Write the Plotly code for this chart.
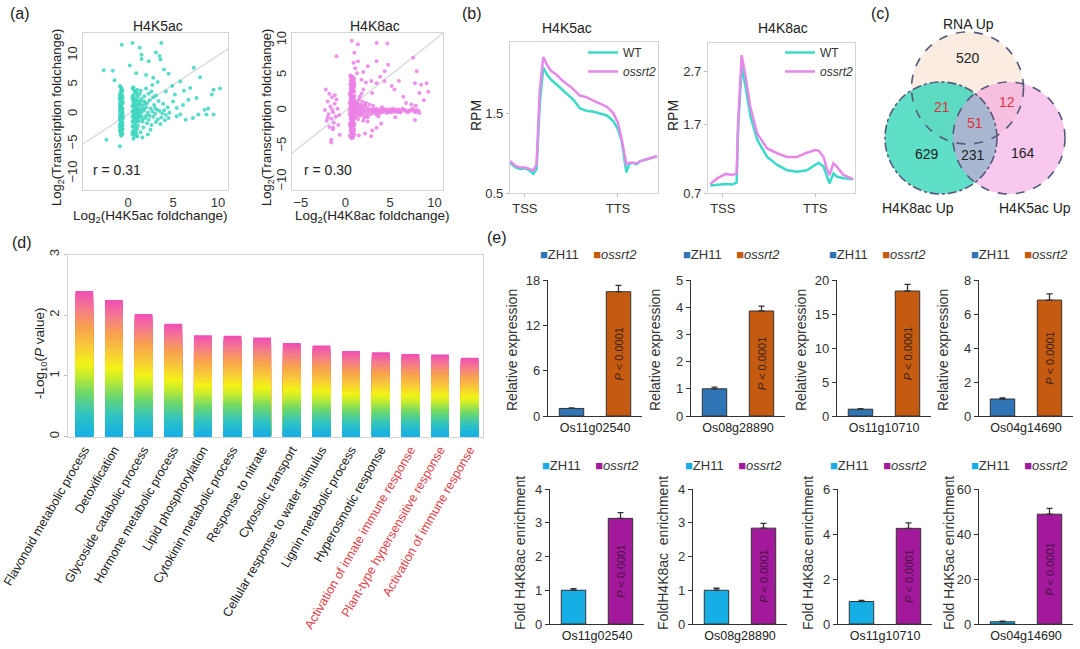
import plotly.graph_objects as go
from plotly.colors import sample_colorscale

W, H = 1080, 649
FONT = "Liberation Sans, Arial, Helvetica, sans-serif"

# ---------------- (a) scatter data: (log2 acetylation FC, log2 transcription FC)
k5_points = [
    (-0.9, 4.8), (-0.7, 4.2), (-0.8, 3.6), (-0.9, 3.1), (-0.6, 2.8), (-0.8, 2.4), (-0.9, 2.0), (-0.7, 1.7),
    (-0.8, 1.3), (-0.6, 1.0), (-0.9, 0.8), (-0.7, 0.5), (-0.8, 0.2), (-0.9, 0.0), (-0.6, -0.2), (-0.8, -0.4),
    (-0.7, -0.7), (-0.9, -0.9), (-0.8, -1.2), (-0.6, -1.4), (-0.9, -1.7), (-0.7, -2.0), (-0.8, -2.3), (-0.9, -2.7),
    (-0.7, -3.0), (-0.8, -3.4), (-0.6, -2.5), (-0.7, 0.9), (-0.9, 1.5), (-0.6, 2.2), (-0.8, 3.9), (-0.7, -0.1),
    (-0.85, -1.8), (-0.65, 0.3), (-0.75, 1.1), (-0.95, 2.6), (-0.55, -0.6), (-0.85, -2.9), (-0.75, 4.5), (-0.65, 3.3),
    (-0.8, 4.6), (-0.6, 4.0), (-0.9, 3.4), (-0.7, 2.9), (-0.8, 2.7), (-0.6, 1.9), (-0.9, 1.2), (-0.7, 0.7),
    (-0.8, 0.6), (-0.6, 0.1), (-0.9, -0.5), (-0.7, -1.1), (-0.8, -1.5), (-0.6, -1.9), (-0.9, -2.2), (-0.7, -2.6),
    (-0.8, -3.1), (-0.6, -3.3), (-0.75, -3.6), (-0.85, 0.4),
    (0.5, 4.4), (0.7, 4.0), (0.9, 3.7), (0.6, 3.3), (1.1, 3.0), (0.5, 2.7), (0.8, 2.4), (1.2, 2.2),
    (0.6, 2.0), (0.9, 1.7), (0.5, 1.4), (1.0, 1.2), (0.7, 1.0), (1.2, 0.8), (0.5, 0.6), (0.8, 0.4),
    (1.1, 0.2), (0.6, 0.0), (0.9, -0.2), (0.5, -0.4), (1.2, -0.6), (0.7, -0.8), (1.0, -1.0), (0.5, -1.3),
    (0.8, -1.6), (1.1, -1.9), (0.6, -2.2), (0.9, -2.6), (0.5, -3.0), (0.8, -3.3), (1.0, -3.7), (0.6, -4.1),
    (1.3, 3.5), (1.0, 4.2), (0.7, -0.1), (1.3, 0.5), (0.6, 1.6), (1.1, -0.4), (0.9, 0.9), (0.5, -2.0),
    (0.6, 4.6), (0.8, 3.9), (1.0, 3.4), (0.5, 3.1), (0.7, 2.8), (1.0, 2.5), (0.6, 2.4), (0.9, 2.0),
    (1.2, 1.6), (0.7, 1.4), (1.0, 0.6), (0.6, 0.3), (0.9, 0.1), (1.2, -0.2), (0.7, -0.4), (1.0, -0.7),
    (0.6, -1.0), (0.9, -1.3), (0.7, -1.9), (1.0, -2.4), (0.6, -2.8), (0.9, -3.1), (0.7, -3.6), (1.2, -1.2),
    (1.3, 1.8), (1.4, 0.2), (1.6, -0.8), (1.8, 0.9), (2.0, -0.2), (1.4, 2.2),
    (1.5, 2.6), (1.8, 2.2), (2.1, 1.9), (2.4, 2.4), (1.6, 1.5), (2.0, 1.2), (2.5, 1.0), (2.9, 1.6),
    (3.2, 0.8), (1.7, 0.6), (2.2, 0.3), (2.7, 0.5), (3.0, 0.1), (3.5, 0.6), (3.8, 0.2), (4.2, -0.1),
    (4.6, 0.3), (1.5, -0.3), (1.9, -0.6), (2.3, -0.9), (2.8, -0.4), (3.3, -0.8), (3.7, -0.5), (4.1, -1.0),
    (4.5, -0.6), (1.6, -1.2), (2.1, -1.5), (2.6, -1.8), (3.1, -1.3), (3.6, -1.6), (1.8, 3.1), (2.3, 3.5),
    (2.8, 2.9), (3.4, 2.3), (3.9, 1.8), (4.4, 1.2), (1.4, 4.0), (2.0, 4.4), (2.6, 3.9), (3.1, 3.2),
    (1.5, 1.0), (2.4, -0.2), (3.0, 1.1), (1.9, 1.8), (4.0, 0.7), (1.7, -2.2), (2.5, -2.6), (1.4, -3.0),
    (2.2, -3.4), (1.6, -3.9),
    (-0.7, 11.8), (0.5, 12.1), (3.7, 12.1), (1.3, 11.3), (3.5, 9.9), (3.6, 9.3), (-2.7, 7.5), (-1.7, 7.4),
    (2.3, 9.0), (1.5, 9.4), (1.5, 10.1), (7.3, 7.9), (8.0, 6.3), (4.5, 6.9), (5.8, 5.6), (6.9, 4.5),
    (9.5, 4.2), (10.2, 4.4), (9.3, 3.4), (7.6, 2.8), (6.7, 2.5), (5.4, 1.1), (5.8, 0.0), (5.4, -0.3),
    (7.8, 0.0), (8.5, 0.8), (8.9, 1.0), (8.7, 0.0), (9.5, 0.0), (-2.4, -4.3), (-0.9, -5.4), (0.5, -3.4),
    (1.0, -3.7), (2.8, 6.2), (3.3, 5.5), (4.9, 4.8), (5.2, 3.4), (6.1, 1.6), (6.4, -0.9), (7.2, -0.6),
    (2.0, 6.7), (0.9, 7.0), (4.0, 7.6), (6.2, 4.0), (5.0, 2.2), (-1.5, 5.8), (2.7, 5.0), (4.2, 3.9),
    (3.1, 10.5), (0.2, 8.3),
]
k8_points = [
    (0.6, 5.0), (0.8, 4.7), (0.9, 4.4), (0.7, 4.1), (0.6, 3.8), (1.0, 3.6), (0.8, 3.3), (0.6, 3.0),
    (0.9, 2.8), (0.7, 2.5), (0.5, 2.3), (1.0, 2.1), (0.8, 1.9), (0.6, 1.7), (0.9, 1.5), (0.7, 1.3),
    (0.5, 1.1), (1.0, 1.0), (0.8, 0.8), (0.6, 0.6), (0.9, 0.5), (0.7, 0.3), (0.5, 0.2), (1.0, 0.1),
    (0.8, 0.0), (0.6, -0.1), (0.9, -0.2), (0.7, -0.4), (0.5, -0.5), (1.0, -0.7), (0.8, -0.9), (0.6, -1.1),
    (0.9, -1.3), (0.7, -1.5), (0.5, -1.8), (1.0, -2.0), (0.8, -2.3), (0.6, -2.6), (0.9, -2.9), (0.7, -3.2),
    (0.5, -3.5), (0.8, -3.8), (0.65, 4.5), (0.85, 3.9), (0.75, 2.9), (0.55, 2.6), (0.95, 1.8), (0.65, 1.2),
    (0.85, 0.7), (0.75, 0.4), (0.55, 0.0), (0.95, -0.3), (0.65, -0.6), (0.85, -1.0), (0.75, -1.7), (0.55, -2.2),
    (0.95, -2.7), (0.65, -3.0), (0.85, 0.2), (0.75, -0.1), (0.6, 0.9), (0.9, 1.1), (0.7, -0.8), (0.8, 1.6),
    (0.6, 2.0), (0.9, 3.1), (0.7, 3.5), (0.8, -1.4), (0.6, -1.9), (0.9, -0.5),
    (0.55, 4.9), (0.75, 4.8), (0.95, 4.6), (0.6, 4.3), (0.8, 4.2), (1.0, 4.0), (0.55, 3.7), (0.75, 3.6),
    (0.95, 3.4), (0.6, 3.2), (0.8, 3.0), (1.0, 2.7), (0.55, 2.4), (0.75, 2.2), (0.95, 2.0), (0.6, 1.9),
    (0.8, 1.7), (1.0, 1.4), (0.55, 1.3), (0.75, 1.0), (0.95, 0.8), (0.6, 0.7), (0.8, 0.5), (1.0, 0.4),
    (0.55, 0.3), (0.75, 0.1), (0.95, 0.0), (0.6, -0.2), (0.8, -0.3), (1.0, -0.4), (0.55, -0.7), (0.75, -0.9),
    (0.95, -1.1), (0.6, -1.3), (0.8, -1.6), (1.0, -1.8), (0.55, -2.0), (0.75, -2.4), (0.95, -2.5), (0.6, -2.8),
    (0.8, -3.1), (1.0, -3.3), (0.55, -3.7), (0.7, -3.9), (0.9, -3.6), (1.05, 0.2), (1.05, -0.1), (1.05, 0.6),
    (1.05, -0.6), (1.05, 1.2),
    (1.2, 0.3), (1.4, -0.2), (1.6, 0.5), (1.8, -0.4), (2.0, 0.1), (2.2, 0.6), (2.4, -0.3), (2.6, 0.2),
    (2.8, -0.5), (3.0, 0.0), (3.2, 0.3), (3.4, -0.2), (3.6, 0.1), (3.8, -0.4), (4.0, 0.2), (4.2, -0.1),
    (4.4, 0.1), (4.6, -0.3), (4.8, 0.0), (5.0, 0.2), (5.2, -0.2), (5.4, 0.1), (5.6, -0.1), (5.8, 0.0),
    (6.0, 0.2), (6.2, -0.2), (6.5, 0.1), (6.8, -0.1), (7.1, 0.0), (7.4, 0.2), (7.7, -0.1), (8.0, 0.1),
    (1.3, 1.2), (1.5, 1.6), (1.7, 0.9), (1.9, 1.3), (2.1, -1.0), (1.4, -1.2), (1.6, 2.0), (2.3, 1.1),
    (2.5, -0.9), (1.2, -0.8), (1.8, 2.4), (2.0, -1.4), (1.3, 0.8), (3.1, 0.7), (3.5, -0.6), (2.7, 0.9),
    (4.1, 0.5), (1.5, -0.5),
    (1.1, 0.0), (1.3, -0.1), (1.5, 0.2), (1.7, 0.0), (1.9, 0.3), (2.1, -0.2), (2.3, 0.1), (2.5, 0.4),
    (2.7, -0.1), (2.9, 0.2), (3.1, -0.3), (3.3, 0.0), (3.5, 0.3), (3.7, -0.1), (3.9, 0.1), (4.1, -0.2),
    (4.3, 0.3), (4.5, 0.0), (4.7, 0.2), (4.9, -0.2), (5.1, 0.0), (5.3, 0.3), (5.5, -0.1), (5.7, 0.2),
    (5.9, -0.2), (6.1, 0.0), (6.4, 0.3), (6.7, 0.1), (7.0, -0.2), (7.3, 0.0), (7.6, 0.3), (7.9, -0.2),
    (8.2, 0.0), (1.2, 0.6), (1.4, 0.9), (1.6, -0.7), (1.8, 0.7), (2.0, -0.6), (2.2, 0.9), (2.4, -0.7),
    (-2.2, 3.0), (-1.8, 2.4), (-1.5, 1.9), (-2.0, 1.3), (-1.2, 1.0), (-1.7, 0.6), (-0.9, 0.3), (-2.3, 0.1),
    (-1.4, -0.2), (-1.9, -0.5), (-1.1, -0.8), (-1.6, -1.1), (-2.1, -1.4), (-1.3, -1.7), (-0.8, -2.0), (-1.8, -2.3),
    (-1.4, -2.6), (-1.6, -4.1), (-0.65, -3.4), (-1.6, -4.5), (-2.0, -1.0), (-1.0, 1.6), (-1.5, 0.2), (-0.7, -0.6),
    (-1.2, 2.2),
    (-1.0, 7.7), (1.4, 9.4), (3.5, 9.6), (4.7, 9.5), (1.0, 8.2), (1.4, 7.0), (3.5, 7.0), (4.8, 6.5),
    (4.4, 5.6), (2.9, 4.2), (4.4, 4.2), (3.5, 3.9), (5.2, 3.5), (6.0, 4.2), (7.8, 3.9), (8.0, 5.6),
    (8.5, 3.7), (9.1, 3.9), (9.3, 2.7), (8.3, 2.5), (7.4, 0.9), (7.9, 0.7), (8.3, -0.3), (7.8, -1.3),
    (3.7, -0.8), (2.5, -1.5), (3.5, -2.4), (2.9, -3.6), (-1.4, -2.4), (2.0, 5.5), (2.5, 6.3), (3.9, 4.8),
    (5.5, 3.0), (6.5, 2.0), (4.0, -1.8), (3.0, -2.8), (2.2, -3.2), (1.5, -3.5), (2.0, 3.0), (3.0, 2.5),
    (6.8, 1.1), (7.6, 7.5), (8.8, 1.5), (1.8, 4.4), (2.3, 4.0), (5.6, -0.9), (1.1, 6.0), (0.7, 9.9),
    (0.9, 6.8), (1.3, 5.3),
]
k5_r_text = "r = 0.31"
k8_r_text = "r = 0.30"

# ---------------- (b) metagene profiles (TSS = 0, TTS = 100)
k5_prof_x = [-16, -10, -5, 0, 5, 9, 12.5, 16, 19.7, 24, 28, 34, 40, 46, 52, 59, 66, 73, 81, 88, 95,
             100, 104, 107.5, 109, 112, 115, 120, 124, 130, 138, 142]
k5_prof_wt = [0.88, 0.82, 0.80, 0.81, 0.78, 0.74, 0.80, 1.62, 2.07, 1.98, 1.92, 1.86, 1.80, 1.74, 1.67,
              1.56, 1.53, 1.52, 1.49, 1.47, 1.40, 1.30, 1.15, 0.83, 0.76, 0.86, 0.88, 0.86, 0.90, 0.92, 0.95, 0.96]
k5_prof_mut = [0.90, 0.84, 0.82, 0.82, 0.80, 0.78, 0.86, 1.78, 2.20, 2.10, 2.03, 1.98, 1.91, 1.86, 1.80,
               1.72, 1.70, 1.66, 1.62, 1.58, 1.50, 1.38, 1.17, 0.92, 0.86, 0.88, 0.88, 0.87, 0.90, 0.92, 0.95, 0.96]
k8_prof_x = [-13.6, -5.7, 3.2, 10.4, 15, 16.5, 20.4, 24.7, 30, 37.3, 48, 58.8, 69.5, 80.3, 91, 100,
             103.6, 109, 112.5, 115.4, 119.7, 123.3, 130.4, 141]
k8_prof_wt = [0.54, 0.55, 0.57, 0.56, 0.60, 1.60, 2.78, 2.40, 1.84, 1.40, 1.08, 0.93, 0.83, 0.80, 0.83,
              0.93, 0.97, 0.90, 0.71, 0.58, 0.77, 0.71, 0.68, 0.66]
k8_prof_mut = [0.57, 0.68, 0.76, 0.74, 0.77, 1.70, 3.00, 2.59, 2.00, 1.52, 1.24, 1.15, 1.08, 1.08, 1.16,
               1.21, 1.20, 1.08, 0.86, 0.74, 0.96, 0.90, 0.74, 0.66]
k8_rpm_ticks = ["0.7", "1.7", "2.7"]

# ---------------- (c) Venn counts
venn_sets = ["RNA Up", "H4K8ac Up", "H4K5ac Up"]
venn_counts = {"RNA": 520, "RNA&K8": 21, "RNA&K5": 12, "all": 51, "K8": 629, "K8&K5": 231, "K5": 164}

# ---------------- (d) GO enrichment
go_terms = ["Flavonoid metabolic process", "Detoxification", "Glycoside catabolic process",
            "Hormone metabolic process", "Lipid phosphorylation", "Cytokinin metabolic process",
            "Response to nitrate", "Cytosolic transport", "Cellular response to water stimulus",
            "Lignin metabolic process", "Hyperosmotic response", "Activation of innate immune response",
            "Plant-type hypersensitive response", "Activation of immune response"]
go_values = [2.40, 2.25, 2.02, 1.86, 1.67, 1.66, 1.63, 1.54, 1.50, 1.41, 1.39, 1.36, 1.35, 1.30]
go_highlight = [False] * 11 + [True] * 3

# ---------------- (e) qRT-PCR and ChIP-qPCR
genes = ["Os11g02540", "Os08g28890", "Os11g10710", "Os04g14690"]
expr_zh11 = [1.0, 1.0, 1.0, 1.0]
expr_zh11_err = [0.08, 0.06, 0.08, 0.06]
expr_mut = [16.45, 3.86, 18.38, 6.82]
expr_mut_err = [0.85, 0.18, 0.98, 0.36]
expr_ymax = [18, 5, 20, 8]
expr_dtick = [6, 1, 5, 2]
enr_zh11 = [1.0, 1.0, 1.0, 1.0]
enr_zh11_err = [0.05, 0.06, 0.05, 0.25]
enr_mut = [3.13, 2.84, 4.25, 48.8]
enr_mut_err = [0.17, 0.14, 0.24, 2.6]
enr_ymax = [4, 4, 6, 60]
enr_dtick = [1, 1, 2, 20]
enr_titles = ["Fold H4K8ac enrichment", "FoldH4K8ac  enrichment", "Fold H4K8ac enrichment", "Fold H4K5ac enrichment"]
p_text = "<i>P</i> &lt; 0.0001"

# ================= styling helpers =================
def dx(a, b):
    return [a / W, b / W]

def dy(top, bottom):
    return [1 - bottom / H, 1 - top / H]

def ann(text, x, y, size=13, color="#222", angle=0, xanchor="center", yanchor="middle"):
    return dict(text=text, x=x / W, y=1 - y / H, xref="paper", yref="paper", showarrow=False,
                font=dict(size=size, color=color, family=FONT), textangle=angle,
                xanchor=xanchor, yanchor=yanchor)

GRAYBOX = dict(showline=True, mirror=True, linecolor="#d4d4d4", linewidth=1.2, showgrid=False,
               zeroline=False, automargin=False, tickfont=dict(size=13, color="#333"))

fig = go.Figure()
layout = dict(width=W, height=H, margin=dict(l=0, r=0, t=0, b=0, autoexpand=False), paper_bgcolor="white",
              plot_bgcolor="white", font=dict(family=FONT, color="#222"),
              barmode="group", bargap=0.0, bargroupgap=0.48)
annotations = []
shapes = []

# ---------------- (a)
c_k5 = "#3dd6bf"
c_k8 = "#eb80e6"
for idx, (pts, col, xr, yr, xdom, xt) in enumerate([
        (k5_points, c_k5, [-5.0, 11.1], [-12.8, 13.8], (83, 228), [0, 5, 10]),
        (k8_points, c_k8, [-6.0, 10.95], [-11.2, 11.0], (292, 443), [-5, 0, 5, 10])]):
    n = "" if idx == 0 else "2"
    xs = [p[0] for p in pts]
    ys = [p[1] for p in pts]
    lo, hi = max(xr[0], yr[0]), min(xr[1], yr[1])
    fig.add_trace(go.Scatter(x=[lo, hi], y=[lo, hi], mode="lines", line=dict(color="#dcdcdc", width=1.5),
                             xaxis="x" + n, yaxis="y" + n, showlegend=False, hoverinfo="skip"))
    fig.add_trace(go.Scatter(x=xs, y=ys, mode="markers", marker=dict(color=col, size=4, opacity=0.85),
                             xaxis="x" + n, yaxis="y" + n, showlegend=False))
    layout["xaxis" + n] = dict(GRAYBOX, domain=dx(*xdom), range=xr, tickvals=xt, ticks="",
                               anchor="y" + n)
    layout["yaxis" + n] = dict(GRAYBOX, domain=dy(33, 190), range=yr, tickvals=[-10, -5, 0, 5, 10],
                               tickangle=-90, ticks="", anchor="x" + n)

annotations += [
    ann("(a)", 20, 13, 16),
    ann("H4K5ac", 158, 26, 14), ann("H4K8ac", 375, 26, 14),
    ann("Log<sub>2</sub>(Transcription foldchange)", 57, 118, 13, angle=-90),
    ann("Log<sub>2</sub>(Transcription foldchange)", 267, 118, 13, angle=-90),
    ann("Log<sub>2</sub>(H4K5ac foldchange)", 150, 216, 13.5),
    ann("Log<sub>2</sub>(H4K8ac foldchange)", 372, 216, 13.5),
    ann(k5_r_text, 117, 170, 14), ann(k8_r_text, 328, 170, 14),
]

# ---------------- (b)
c_wt = "#3dd9c9"
c_mut = "#e589e8"
for idx, (px_, wt, mut, xdom, ydom, yr, tv, tt, leg, legx) in enumerate([
        (k5_prof_x, k5_prof_wt, k5_prof_mut, (510, 658), (42, 193), [0.5, 2.39], [0.5, 1.5], ["0.5", "1.5"], "legend", 662),
        (k8_prof_x, k8_prof_wt, k8_prof_mut, (708, 855), (43, 193), [0.40, 3.23], [0.40, 1.7, 2.7], k8_rpm_ticks, "legend2", 859)]):
    n = str(3 + idx)
    fig.add_trace(go.Scatter(x=px_, y=wt, mode="lines", name="WT", line=dict(color=c_wt, width=2.5),
                             xaxis="x" + n, yaxis="y" + n, legend=leg))
    fig.add_trace(go.Scatter(x=px_, y=mut, mode="lines", name="<i>ossrt2</i>", line=dict(color=c_mut, width=2.5),
                             xaxis="x" + n, yaxis="y" + n, legend=leg))
    layout["xaxis" + n] = dict(GRAYBOX, domain=dx(*xdom), range=[-16, 143], tickvals=[0, 100],
                               ticktext=["TSS", "TTS"], ticks="outside", ticklen=3, tickcolor="#bbb",
                               anchor="y" + n)
    layout["yaxis" + n] = dict(GRAYBOX, domain=dy(*ydom), range=yr, tickvals=tv, ticktext=tt,
                               ticks="outside", ticklen=3, tickcolor="#bbb", anchor="x" + n)
    layout[leg] = dict(x=legx / W, y=1 - 38 / H, xanchor="right", yanchor="top", bgcolor="rgba(0,0,0,0)",
                       font=dict(size=12, color="#333"), itemwidth=30, tracegroupgap=0)

annotations += [
    ann("(b)", 472, 13, 16),
    ann("H4K5ac", 567, 28, 14), ann("H4K8ac", 783, 28, 14),
    ann("RPM", 476, 116, 14, angle=-90), ann("RPM", 673, 116, 14, angle=-90),
]

# ---------------- (c) Venn
layout["xaxis5"] = dict(domain=dx(880, 1075), range=[880, 1075], visible=False, automargin=False, anchor="y5")
layout["yaxis5"] = dict(domain=dy(20, 220), range=[220, 20], visible=False, automargin=False, anchor="x5")
circles = [  # (cx, cy, r, fill, opacity, dash)
    (967.5, 88, 56, "#fbece1", 1.0, "dash"),
    (941, 138, 56, "#37d6ba", 0.8, "dashdot"),
    (1009, 138, 56, "#f191dd", 0.5, "dash"),
]
for cx, cy, r, fc, op, _ in circles:
    shapes.append(dict(type="circle", xref="x5", yref="y5", x0=cx - r, x1=cx + r, y0=cy - r, y1=cy + r,
                       fillcolor=fc, opacity=op, line=dict(width=0), layer="below"))
for cx, cy, r, fc, op, dash in circles:
    shapes.append(dict(type="circle", xref="x5", yref="y5", x0=cx - r, x1=cx + r, y0=cy - r, y1=cy + r,
                       fillcolor="rgba(0,0,0,0)", line=dict(color="#55597a", width=1.6, dash=dash), layer="above"))
venn_pos = {"RNA": (968, 58), "RNA&K8": (942, 107), "RNA&K5": (1007, 102), "all": (975, 123),
            "K8": (927, 154), "K8&K5": (973, 155), "K5": (1023, 153)}
red_regions = {"RNA&K8", "RNA&K5", "all"}
for key, val in venn_counts.items():
    x, y = venn_pos[key]
    annotations.append(dict(text=str(val), x=x, y=y, xref="x5", yref="y5", showarrow=False,
                            font=dict(size=14, color="#e0333f" if key in red_regions else "#222", family=FONT)))
for name, (x, y) in zip(venn_sets, [(968, 24), (918, 208), (1035, 208)]):
    annotations.append(dict(text=name, x=x, y=y, xref="x5", yref="y5", showarrow=False,
                            font=dict(size=14, color="#222", family=FONT)))
annotations.append(ann("(c)", 880, 13, 16))

# ---------------- (d) gradient bars
grad = [[0.0, "#14aee8"], [0.15, "#2fc3c2"], [0.3, "#6fd86a"], [0.42, "#c6ec2e"], [0.5, "#f3f315"],
        [0.62, "#f8c93a"], [0.75, "#f8a24e"], [0.88, "#f47a8e"], [1.0, "#ef4db6"]]
NSEG = 60
for k in range(NSEG):
    frac = 1 - k / NSEG
    col = sample_colorscale(grad, [max(frac - 0.5 / NSEG, 0)])[0]
    fig.add_trace(go.Bar(x=go_terms, y=[v * frac for v in go_values], marker=dict(color=col, line=dict(width=0)),
                         width=0.6, offsetgroup="go", alignmentgroup="go", xaxis="x6", yaxis="y6",
                         showlegend=False, hoverinfo="skip" if k else None))
go_ticktext = [f"<span style='color:#e0404a'>{t}</span>" if h else t for t, h in zip(go_terms, go_highlight)]
layout["xaxis6"] = dict(GRAYBOX, domain=dx(68, 483), range=[-0.55, 13.45], type="category",
                        tickvals=go_terms, ticktext=go_ticktext, tickangle=-60, ticks="",
                        tickfont=dict(size=12.5, color="#222"), anchor="y6")
layout["yaxis6"] = dict(GRAYBOX, domain=dy(254.5, 436.5), range=[0, 3], dtick=1, tickangle=-90,
                        ticks="outside", ticklen=3, tickcolor="#bbb", anchor="x6")
annotations += [ann("(d)", 22, 242, 16),
                ann("-Log<sub>10</sub>(<i>P</i> value)", 40, 353, 13.5, angle=-90)]

# ---------------- (e)
annotations.append(ann("(e)", 497, 238, 16))
rows = [
    dict(zh=expr_zh11, zhe=expr_zh11_err, mu=expr_mut, mue=expr_mut_err, ymax=expr_ymax, dt=expr_dtick,
         titles=["Relative expression"] * 4, c1="#2f74b5", c2="#c55a11", tcol="#3b2417",
         top=280, bottom=416, lefts=[548, 691, 837, 979], leg_y=255, title_dx=-36, title_y=350, base=7),
    dict(zh=enr_zh11, zhe=enr_zh11_err, mu=enr_mut, mue=enr_mut_err, ymax=enr_ymax, dt=enr_dtick,
         titles=enr_titles, c1="#17aee6", c2="#a3199b", tcol="#4a1248",
         top=489, bottom=624, lefts=[550, 693, 838, 979], leg_y=465, title_dx=-30, title_y=553, base=11),
]
for row in rows:
    for i, gene in enumerate(genes):
        n = str(row["base"] + i)
        L = row["lefts"][i]
        fig.add_trace(go.Bar(x=[gene], y=[row["zh"][i]], name="ZH11", xaxis="x" + n, yaxis="y" + n,
                             marker=dict(color=row["c1"], line=dict(color="#333", width=1)),
                             error_y=dict(type="data", array=[row["zhe"][i]], arrayminus=[0], symmetric=False,
                                          color="#333", thickness=1.3, width=3),
                             cliponaxis=False, showlegend=False))
        fig.add_trace(go.Bar(x=[gene], y=[row["mu"][i]], name="ossrt2", xaxis="x" + n, yaxis="y" + n,
                             marker=dict(color=row["c2"], line=dict(color="#333", width=1)),
                             error_y=dict(type="data", array=[row["mue"][i]], arrayminus=[0], symmetric=False,
                                          color="#333", thickness=1.3, width=3),
                             text=[p_text], textposition="inside", insidetextanchor="middle", textangle=-90,
                             textfont=dict(size=11, color=row["tcol"], family=FONT),
                             cliponaxis=False, showlegend=False))
        layout["xaxis" + n] = dict(domain=dx(L, L + 94), range=[-0.5, 0.5], type="category", showline=True,
                                   linecolor="#333", linewidth=1.2, ticks="", showgrid=False, zeroline=False,
                                   automargin=False, tickfont=dict(size=12.5, color="#222"), anchor="y" + n)
        layout["yaxis" + n] = dict(domain=dy(row["top"], row["bottom"]), range=[0, row["ymax"][i]],
                                   dtick=row["dt"][i], showline=True, linecolor="#333", linewidth=1.2,
                                   ticks="outside", ticklen=4, tickcolor="#333", showgrid=False, zeroline=False,
                                   automargin=False, tickfont=dict(size=13, color="#333"), anchor="x" + n)
        annotations.append(ann(row["titles"][i], L + row["title_dx"], row["title_y"], 14, color="#333", angle=-90))
        legend_text = (f"<span style='color:{row['c1']}'>■</span>ZH11    "
                       f"<span style='color:{row['c2']}'>■</span><i>ossrt2</i>")
        annotations.append(ann(legend_text, L + 40, row["leg_y"], 13, color="#333"))

layout["annotations"] = annotations
layout["shapes"] = shapes
fig.update_layout(**layout)
fig.write_html("out.html")
